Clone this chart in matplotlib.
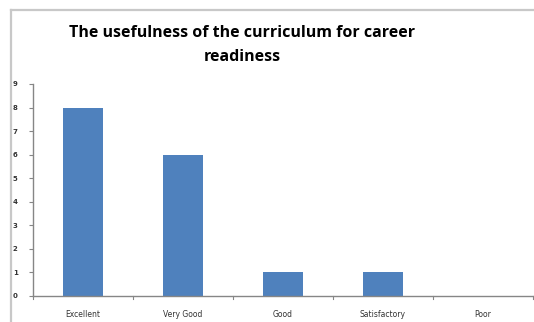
import matplotlib.pyplot as plt
from matplotlib.lines import Line2D

categories = ["Excellent", "Very Good", "Good", "Satisfactory", "Poor"]
counts = [8, 6, 1, 1, 0]
y_ticks = list(range(0, 10))

BAR_COLOR = "#4f81bd"
AXIS_COLOR = "#868686"
FRAME_COLOR = "#c8c8c8"

fig = plt.figure(figsize=(5.34, 3.22), dpi=100)
fig.patch.set_facecolor("white")

# outer chart frame: only left and top edges are visible
left_x = 10.5 / 534
top_y = 1 - 9.5 / 322
fig.lines.append(Line2D([left_x, 1.0], [top_y, top_y], transform=fig.transFigure,
                        color=FRAME_COLOR, lw=1.6))
fig.lines.append(Line2D([left_x, left_x], [0.0, top_y], transform=fig.transFigure,
                        color=FRAME_COLOR, lw=1.6))

ax = fig.add_axes([33 / 534, 1 - 296 / 322, 500 / 534, (296 - 84) / 322])
x = range(len(categories))
ax.bar(x, counts, width=0.4, color=BAR_COLOR)

ax.set_xlim(-0.5, len(categories) - 0.5)
ax.set_ylim(0, 9)
ax.set_yticks(y_ticks)
ax.set_yticklabels([str(t) for t in y_ticks], fontsize=5, color="#333333",
                   fontweight="bold")
ax.set_xticks(x)
ax.set_xticklabels(categories, fontsize=5.5, color="#333333")
ax.tick_params(axis="x", length=0, pad=10)
ax.tick_params(axis="y", length=3, width=0.8, color=AXIS_COLOR, pad=8)

# category boundary ticks
for b in range(len(categories) + 1):
    ax.plot([b - 0.5, b - 0.5], [0, -0.12], color=AXIS_COLOR, lw=0.8,
            clip_on=False)

for side in ["top", "right"]:
    ax.spines[side].set_visible(False)
for side in ["left", "bottom"]:
    ax.spines[side].set_color(AXIS_COLOR)
    ax.spines[side].set_linewidth(1.0)

fig.text(242 / 534, 1 - 45 / 322,
         "The usefulness of the curriculum for career\nreadiness",
         ha="center", va="center", fontsize=11.5, fontweight="bold",
         family="Open Sans", linespacing=1.6)

fig.savefig("out.png", dpi=100)
